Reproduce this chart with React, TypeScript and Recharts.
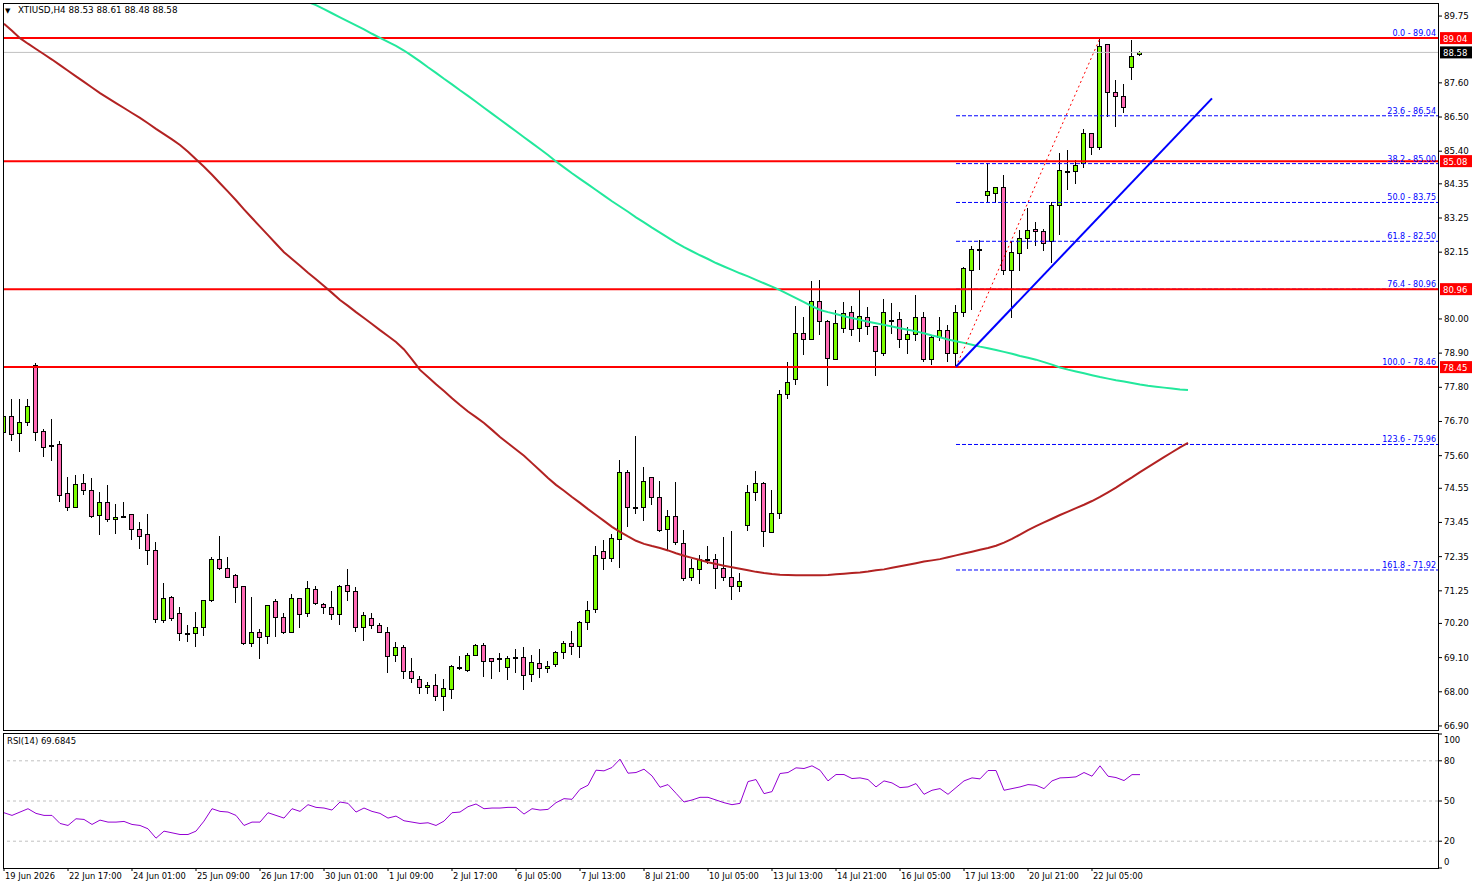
import React from 'react';
import { Bar, ComposedChart, Line, LineChart, ReferenceLine, XAxis, YAxis } from 'recharts';

const FONT = '"DejaVu Sans", Verdana, sans-serif';

// bottom time labels, one every 8 bars
const timeLabels = [
  '19 Jun 2026', '22 Jun 17:00', '24 Jun 01:00', '25 Jun 09:00', '26 Jun 17:00', '30 Jun 01:00',
  '1 Jul 09:00', '2 Jul 17:00', '6 Jul 05:00', '7 Jul 13:00', '8 Jul 21:00', '10 Jul 05:00',
  '13 Jul 13:00', '14 Jul 21:00', '16 Jul 05:00', '17 Jul 13:00', '20 Jul 21:00', '22 Jul 05:00',
];

// H4 candles
const opens = [
  76.35, 76.89, 76.32, 76.67, 78.51, 76.38, 75.93, 75.96, 74.39, 73.94,
  74.71, 74.48, 73.68, 74.10, 73.55, 73.62, 73.71, 73.23, 73.07, 72.55,
  70.30, 71.04, 70.52, 69.89, 69.88, 70.10, 70.97, 72.29, 72.00, 71.75,
  71.39, 69.56, 69.91, 69.78, 70.91, 70.40, 69.91, 71.01, 70.52, 71.30,
  70.81, 70.72, 70.49, 71.43, 71.26, 70.07, 70.36, 70.14, 69.94, 69.17,
  69.43, 68.66, 68.40, 68.14, 68.21, 67.88, 68.08, 68.79, 68.69, 69.20,
  69.49, 69.08, 69.07, 68.79, 69.08, 69.11, 68.56, 68.92, 68.76, 68.88,
  69.27, 69.56, 69.46, 70.24, 70.65, 72.52, 72.30, 72.91, 75.06, 73.94,
  73.94, 74.90, 74.26, 73.23, 73.65, 72.78, 71.68, 71.94, 72.26, 72.29,
  71.97, 71.71, 71.39, 73.36, 74.42, 74.71, 73.13, 73.77, 77.57, 78.06,
  79.54, 79.37, 80.57, 79.92, 78.70, 79.70, 80.21, 79.70, 80.05, 79.76,
  78.92, 79.96, 79.99, 79.34, 79.50, 80.05, 78.70, 79.41, 79.63, 78.92,
  80.21, 81.59, 82.23, 83.98, 84.07, 84.24, 81.59, 82.11, 82.62, 82.91,
  82.82, 82.50, 83.66, 84.76, 84.75, 85.01, 85.97, 85.52, 88.84, 87.32,
  87.19, 88.10, 88.53,
];
const highs = [
  77.15, 77.44, 77.41, 77.44, 78.57, 76.45, 76.77, 76.06, 74.91, 74.97,
  75.01, 74.87, 74.42, 74.64, 74.06, 74.10, 73.71, 73.45, 73.71, 72.81,
  71.49, 71.07, 70.72, 70.14, 70.56, 70.97, 72.33, 73.00, 72.33, 71.78,
  71.42, 71.04, 70.01, 70.78, 70.98, 70.52, 71.14, 71.01, 71.55, 71.39,
  70.85, 71.23, 71.43, 71.94, 71.36, 70.56, 70.52, 70.23, 70.07, 69.59,
  69.49, 69.08, 68.50, 68.30, 68.56, 68.40, 68.85, 69.14, 69.24, 69.53,
  69.56, 69.09, 69.24, 69.14, 69.37, 69.43, 69.17, 69.37, 68.98, 69.30,
  69.62, 69.95, 70.27, 70.91, 72.68, 72.87, 73.07, 75.45, 75.13, 76.22,
  75.22, 74.92, 74.80, 73.84, 74.74, 73.20, 72.29, 72.40, 72.68, 72.42,
  72.97, 73.19, 71.81, 74.67, 75.10, 74.74, 74.50, 77.70, 78.60, 80.41,
  80.05, 81.21, 81.27, 79.96, 80.28, 80.53, 80.41, 80.92, 80.37, 79.78,
  80.63, 80.50, 80.21, 79.73, 80.76, 80.24, 79.47, 80.05, 79.79, 80.44,
  81.66, 82.34, 82.53, 85.01, 84.26, 84.62, 82.50, 82.85, 83.56, 83.11,
  82.91, 83.75, 85.33, 85.43, 85.13, 86.13, 85.99, 89.04, 88.86, 87.68,
  87.55, 88.97, 88.61,
];
const lows = [
  75.86, 76.08, 75.73, 76.56, 76.08, 75.57, 75.44, 74.12, 73.83, 73.94,
  74.35, 73.58, 73.06, 73.45, 73.09, 73.58, 72.89, 72.60, 72.09, 70.23,
  70.20, 70.27, 69.65, 69.59, 69.43, 69.78, 70.88, 71.91, 71.68, 70.85,
  69.49, 69.45, 69.04, 69.53, 69.75, 69.85, 69.88, 70.04, 70.40, 70.78,
  70.49, 70.30, 70.14, 70.91, 69.94, 69.62, 70.01, 69.92, 68.59, 68.95,
  68.40, 68.27, 67.92, 67.92, 67.69, 67.37, 67.76, 68.69, 68.63, 69.14,
  68.46, 68.40, 68.65, 68.37, 68.59, 68.05, 68.30, 68.43, 68.59, 68.79,
  69.04, 69.17, 69.08, 69.98, 70.52, 71.91, 72.17, 71.97, 73.29, 73.71,
  73.49, 74.00, 73.13, 72.55, 72.74, 71.55, 71.55, 71.46, 72.10, 71.30,
  71.58, 70.97, 71.20, 73.19, 74.13, 72.65, 73.10, 73.55, 77.41, 77.86,
  78.83, 79.31, 79.47, 77.83, 78.68, 79.54, 79.44, 79.25, 79.47, 78.18,
  78.80, 79.50, 79.08, 78.86, 79.28, 78.60, 78.51, 79.28, 78.60, 78.46,
  80.05, 80.30, 81.56, 83.78, 83.72, 81.40, 80.02, 81.53, 82.24, 82.34,
  82.20, 81.79, 82.69, 84.14, 84.36, 84.85, 85.29, 85.43, 86.49, 86.17,
  86.62, 87.68, 88.48,
];
const closes = [
  76.89, 76.29, 76.67, 77.19, 76.35, 75.89, 75.92, 74.35, 73.94, 74.68,
  74.48, 73.65, 74.10, 73.55, 73.61, 73.65, 73.23, 73.03, 72.55, 70.33,
  71.01, 70.39, 69.88, 69.88, 70.10, 70.94, 72.29, 71.97, 71.71, 71.36,
  69.56, 69.91, 69.75, 70.78, 70.40, 69.91, 71.01, 70.49, 71.33, 70.85,
  70.72, 70.49, 71.39, 71.26, 70.07, 70.46, 70.14, 69.94, 69.14, 69.43,
  68.66, 68.43, 68.14, 68.21, 67.85, 68.11, 68.82, 68.80, 69.20, 69.49,
  68.98, 68.98, 69.08, 69.08, 69.11, 68.53, 68.95, 68.76, 68.82, 69.27,
  69.56, 69.46, 70.24, 70.62, 72.39, 72.30, 72.94, 75.06, 73.94, 73.93,
  74.77, 74.26, 73.20, 73.65, 72.81, 71.65, 71.97, 72.26, 72.27, 71.97,
  71.68, 71.39, 71.58, 74.42, 74.71, 73.16, 73.77, 77.60, 77.96, 79.54,
  79.34, 80.57, 79.92, 78.73, 79.86, 80.18, 79.67, 80.08, 79.76, 78.96,
  80.21, 79.97, 79.34, 79.50, 80.05, 78.70, 79.41, 79.63, 78.89, 80.24,
  81.63, 82.24, 82.24, 84.11, 84.24, 81.59, 82.14, 82.59, 82.85, 82.82,
  82.46, 83.66, 84.78, 84.77, 84.94, 85.97, 85.52, 88.80, 87.32, 87.19,
  86.81, 88.45, 88.58,
];

// moving averages (drawn shifted 6 bars forward, so they run past the last candle)
const redMa = [
  89.50, 89.28, 89.04, 88.86, 88.69, 88.52, 88.35, 88.17, 87.99, 87.81,
  87.63, 87.45, 87.27, 87.11, 86.95, 86.79, 86.63, 86.47, 86.30, 86.12,
  85.95, 85.78, 85.60, 85.38, 85.14, 84.90, 84.64, 84.37, 84.10, 83.82,
  83.53, 83.25, 82.97, 82.70, 82.42, 82.15, 81.93, 81.71, 81.49, 81.28,
  81.06, 80.84, 80.61, 80.42, 80.22, 80.03, 79.84, 79.64, 79.45, 79.26,
  79.02, 78.70, 78.36, 78.13, 77.90, 77.68, 77.45, 77.23, 77.02, 76.84,
  76.65, 76.43, 76.20, 76.00, 75.80, 75.60, 75.36, 75.12, 74.88, 74.66,
  74.47, 74.27, 74.08, 73.88, 73.69, 73.50, 73.31, 73.15, 73.00, 72.86,
  72.76, 72.69, 72.63, 72.55, 72.46, 72.38, 72.31, 72.24, 72.17, 72.11,
  72.06, 72.01, 71.96, 71.91, 71.86, 71.82, 71.79, 71.77, 71.76, 71.75,
  71.75, 71.75, 71.75, 71.76, 71.78, 71.80, 71.82, 71.84, 71.87, 71.91,
  71.94, 71.99, 72.04, 72.09, 72.14, 72.19, 72.23, 72.27, 72.33, 72.39,
  72.45, 72.51, 72.57, 72.63, 72.70, 72.80, 72.92, 73.06, 73.20, 73.33,
  73.45, 73.57, 73.69, 73.80, 73.91, 74.02, 74.14, 74.27, 74.42, 74.57,
  74.74, 74.90, 75.07, 75.23, 75.39, 75.55, 75.71, 75.87, 76.01,
];
const tealMa: (number | null)[] = [
  ...Array(38).fill(null),
  90.20, 90.10, 89.97, 89.84, 89.71, 89.58, 89.45, 89.32, 89.18, 89.05,
  88.92, 88.79, 88.64, 88.47, 88.29, 88.10, 87.92, 87.73, 87.55, 87.36,
  87.18, 86.99, 86.80, 86.61, 86.42, 86.23, 86.04, 85.85, 85.66, 85.47,
  85.28, 85.07, 84.88, 84.69, 84.51, 84.33, 84.15, 83.97, 83.79, 83.62,
  83.45, 83.27, 83.11, 82.94, 82.78, 82.62, 82.46, 82.31, 82.18, 82.05,
  81.93, 81.80, 81.69, 81.58, 81.47, 81.37, 81.26, 81.15, 81.04, 80.93,
  80.80, 80.67, 80.54, 80.41, 80.29, 80.22, 80.16, 80.09, 80.03, 79.97,
  79.91, 79.86, 79.81, 79.76, 79.70, 79.65, 79.60, 79.54, 79.47, 79.41,
  79.34, 79.28, 79.23, 79.17, 79.11, 79.06, 79.00, 78.94, 78.88, 78.81,
  78.75, 78.69, 78.61, 78.53, 78.44, 78.37, 78.31, 78.25, 78.19, 78.13,
  78.08, 78.03, 77.99, 77.94, 77.89, 77.85, 77.82, 77.79, 77.76, 77.73,
  77.71,
];

const rsi14 = [
  41.25, 39.25, 41.75, 44.25, 40.75, 39.25, 39.25, 33.25, 31.75, 36.75,
  36.25, 32.5, 35.75, 34.25, 34.25, 34.75, 32.5, 31.75, 29.25, 22.25,
  27.5, 26.25, 25, 25, 27.5, 35, 44.25, 42.25, 41.75, 39.25,
  31.75, 34.25, 34.25, 41.25, 39.25, 37.25, 44.25, 42.25, 47.25, 45.25,
  44.75, 43.25, 49.25, 48.25, 41.75, 44.75, 42.25, 40.75, 37.25, 38.75,
  35.25, 34.25, 33.25, 33.75, 31.75, 35, 41.25, 41.75, 45.75, 47.75,
  44.25, 44.75, 44.75, 45.25, 45.25, 40.25, 44.25, 43.25, 43.75, 48.75,
  51.75, 51.25, 58.75, 61.75, 73, 72.5, 75, 81.25, 70.75, 71.25,
  73.75, 68.75, 60.25, 62.25, 55.75, 49.25, 50.75, 52.75, 52.75, 50.75,
  48.75, 47.25, 48.25, 64.5, 66, 55.5, 57, 70.5, 71.25, 74.75,
  74.25, 76.25, 73, 65, 69.75, 69.75, 66.75, 67.25, 66, 60.5,
  65, 63.5, 60, 60.5, 63, 55, 58, 59.25, 55, 60,
  65, 67.25, 66.5, 72.75, 72.75, 58, 59.25, 60.5, 62.25, 61.75,
  59.25, 65, 67.25, 67.5, 68, 71.25, 68.5, 76.25, 68.5, 67.5,
  65.25, 69.68, 69.68,
];

// axis labels that stay visible (those under the coloured tags are left out)
const priceTicks = [
  89.75, 87.6, 86.5, 85.4, 84.35, 83.25, 82.15, 80.0, 78.9,
  77.8, 76.7, 75.6, 74.55, 73.45, 72.35, 71.25, 70.2, 69.1, 68.0, 66.9,
];
const rsiTicks = [0, 20, 50, 80, 100];
const rsiLevels = [80, 50, 20];

const fibPct = ['0.0', '23.6', '38.2', '50.0', '61.8', '76.4', '100.0', '123.6', '161.8'];
const fibPrice = [89.04, 86.54, 85.0, 83.75, 82.5, 80.96, 78.46, 75.96, 71.92];
const redLevels = [89.04, 85.08, 80.96, 78.45];
const lastPrice = 88.58;

const swingLow = { i: 119, price: 78.46 };
const swingHigh = { i: 137, price: 89.04 };
const trendEnd = { i: 151, price: 87.1 };

const X_DOMAIN: [number, number] = [-0.125, 179.25];

const rows = redMa.map((ma, i) => ({
  i,
  open: opens[i],
  high: highs[i],
  low: lows[i],
  close: closes[i],
  range: i < opens.length ? [lows[i], highs[i]] : null,
  redMa: ma,
  tealMa: tealMa[i] ?? undefined,
  rsi: rsi14[i],
}));

const labelTicks = timeLabels.map((_, k) => k * 8);

const Candle = (props: any) => {
  const { x, y, width, height, payload } = props;
  if (!payload || payload.open == null || !isFinite(y) || !isFinite(height)) return null;
  const { open, high, low, close } = payload;
  const top = Math.min(y, y + height);
  const span = Math.abs(height);
  const ppu = span / (high - low);
  const cx = Math.floor(x + width / 2) + 0.5;
  const yOf = (v: number) => top + (high - v) * ppu;
  const bTop = Math.round(yOf(Math.max(open, close))) + 0.5;
  const bBot = Math.round(yOf(Math.min(open, close))) + 0.5;
  const up = close >= open;
  return (
    <g>
      <line x1={cx} x2={cx} y1={Math.round(top)} y2={Math.round(top + span)} stroke="#000" strokeWidth={1} />
      <rect
        x={cx - 2}
        y={bTop}
        width={4}
        height={Math.max(bBot - bTop, 1)}
        fill={up ? '#7CFC00' : '#FF69B4'}
        stroke="#000"
        strokeWidth={1}
      />
    </g>
  );
};

const AxisTag = (props: any) => {
  const { viewBox, text, bg } = props;
  if (!viewBox) return null;
  const x = viewBox.x + viewBox.width + 2;
  const y = viewBox.y;
  return (
    <g>
      <rect x={x} y={y - 6} width={32} height={12} fill={bg} />
      <text x={x + 3} y={y + 3.5} fontSize={8.5} fontFamily={FONT} fill="#fff">
        {text}
      </text>
    </g>
  );
};

const PriceTick = (props: any) => {
  const { x, y, payload } = props;
  return (
    <text x={x} y={y} dy={3} fontSize={8.7} fontFamily={FONT} fill="#000">
      {Number(payload.value).toFixed(2)}
    </text>
  );
};

const RsiTick = (props: any) => {
  const { x, y, payload } = props;
  const shift = payload.value === 100 ? 6 : payload.value === 0 ? -6 : 0;
  return (
    <text x={x} y={y + shift} dy={3} fontSize={8.5} fontFamily={FONT} fill="#000">
      {payload.value}
    </text>
  );
};

const TimeTick = (props: any) => {
  const { x, y, payload } = props;
  return (
    <text x={x + 1} y={y + 6} fontSize={8.3} fontFamily={FONT} fill="#000">
      {timeLabels[Math.round(payload.value / 8)]}
    </text>
  );
};

export default function App() {
  return (
    <div style={{ position: 'fixed', left: 0, top: 0, width: 1479, height: 888, background: '#fff', overflow: 'hidden' }}>
      <div style={{ position: 'absolute', left: 0, top: 0 }}>
        <ComposedChart width={1479} height={733} data={rows} margin={{ top: 3, right: 0, bottom: 3, left: 3 }}>
          <XAxis dataKey="i" type="number" domain={X_DOMAIN} hide allowDataOverflow />
          <YAxis
            orientation="right"
            width={41}
            domain={[66.77, 90.17]}
            allowDataOverflow
            ticks={priceTicks}
            interval={0}
            tick={<PriceTick />}
            tickSize={4}
            tickLine={{ stroke: '#000' }}
            axisLine={false}
          />
          {fibPrice.map((v, k) => (
            <ReferenceLine
              key={'fib' + k}
              segment={[{ x: swingLow.i, y: v }, { x: X_DOMAIN[1], y: v }]}
              stroke="#0000FF"
              strokeDasharray="4 2"
              label={{
                value: `${fibPct[k]} - ${v.toFixed(2)}`,
                position: 'insideBottomRight',
                offset: 2,
                fill: '#0000FF',
                fontSize: 8,
                fontFamily: FONT,
              }}
            />
          ))}
          <ReferenceLine y={lastPrice} stroke="#C0C0C0" strokeWidth={1} label={<AxisTag text={lastPrice.toFixed(2)} bg="#000" />} />
          {redLevels.map((v) => (
            <ReferenceLine key={'lvl' + v} y={v} stroke="#FF0000" strokeWidth={2} label={<AxisTag text={v.toFixed(2)} bg="#FF0000" />} />
          ))}
          <Bar dataKey="range" barSize={5} shape={(p: any) => <Candle {...p} />} isAnimationActive={false} />
          <Line dataKey="redMa" stroke="#B22222" strokeWidth={2} dot={false} isAnimationActive={false} />
          <Line dataKey="tealMa" stroke="#22E89C" strokeWidth={2} dot={false} isAnimationActive={false} />
          <ReferenceLine
            segment={[{ x: swingLow.i, y: swingLow.price }, { x: swingHigh.i, y: swingHigh.price }]}
            stroke="#FF0000"
            strokeDasharray="2 3"
          />
          <ReferenceLine
            segment={[{ x: swingLow.i, y: swingLow.price }, { x: trendEnd.i, y: trendEnd.price }]}
            stroke="#0000FF"
            strokeWidth={2}
          />
        </ComposedChart>
      </div>
      <div style={{ position: 'absolute', left: 0, top: 733 }}>
        <LineChart width={1479} height={155} data={rows} margin={{ top: 1, right: 0, bottom: 0, left: 3 }}>
          <XAxis
            dataKey="i"
            type="number"
            domain={X_DOMAIN}
            allowDataOverflow
            ticks={labelTicks}
            interval={0}
            tick={<TimeTick />}
            tickSize={3}
            tickLine={{ stroke: '#000' }}
            axisLine={false}
            height={20}
          />
          <YAxis
            orientation="right"
            width={41}
            domain={[0, 100]}
            ticks={rsiTicks}
            interval={0}
            tick={<RsiTick />}
            tickSize={4}
            tickLine={{ stroke: '#000' }}
            axisLine={false}
          />
          {rsiLevels.map((v) => (
            <ReferenceLine key={'rsi' + v} y={v} stroke="#C0C0C0" strokeDasharray="3 3" />
          ))}
          <Line dataKey="rsi" stroke="#9400D3" strokeWidth={1} dot={false} isAnimationActive={false} />
        </LineChart>
      </div>
      <div style={{ position: 'absolute', left: 3, top: 3, width: 1436, height: 728, border: '1px solid #000', boxSizing: 'border-box', pointerEvents: 'none' }} />
      <div style={{ position: 'absolute', left: 3, top: 733, width: 1436, height: 136, border: '1px solid #000', boxSizing: 'border-box', pointerEvents: 'none' }} />
      <svg width={400} height={20} style={{ position: 'absolute', left: 0, top: 0 }}>
        <text x={5} y={13} fontSize={7} fontFamily={FONT} fill="#000">▼</text>
        <text x={18} y={13} fontSize={8.8} fontFamily={FONT} fill="#000">XTIUSD,H4  88.53 88.61 88.48 88.58</text>
      </svg>
      <svg width={200} height={20} style={{ position: 'absolute', left: 0, top: 734 }}>
        <text x={7} y={10} fontSize={8.5} fontFamily={FONT} fill="#000">RSI(14) 69.6845</text>
      </svg>
    </div>
  );
}
